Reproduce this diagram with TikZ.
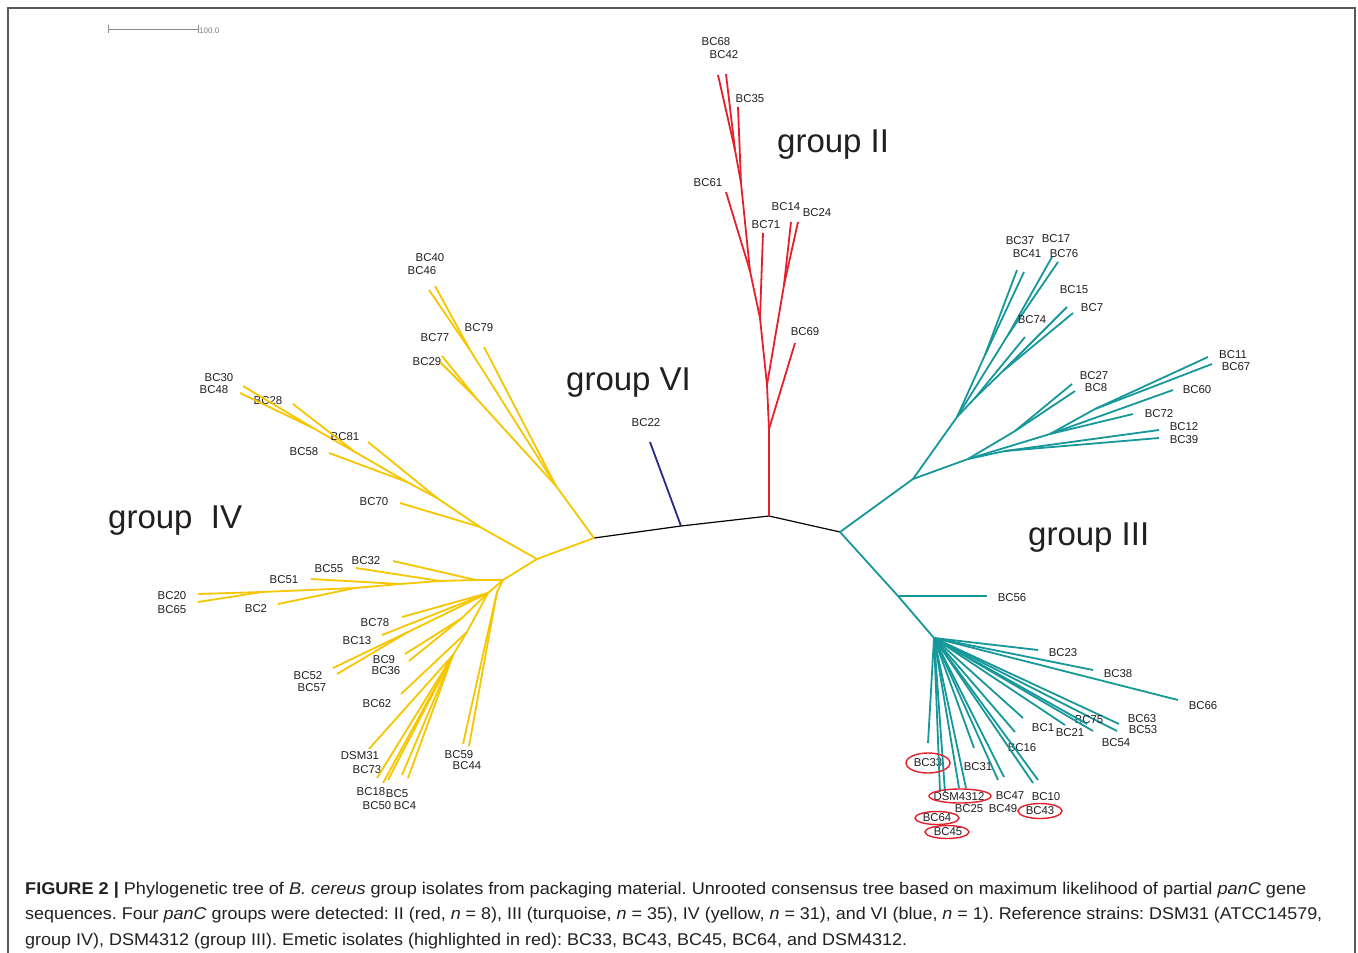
\documentclass[tikz,border=0pt]{standalone}
\usepackage{fontspec}
\setmainfont{Liberation Sans}
\usepackage{graphicx}
\usetikzlibrary{shapes.geometric}
\definecolor{gred}{HTML}{E3202B}
\definecolor{gteal}{HTML}{16989A}
\definecolor{gyel}{HTML}{F6C700}
\definecolor{gblue}{HTML}{2A2A85}
\definecolor{ink}{HTML}{231F20}
\frenchspacing
\newcommand\leaf[6]{%
  \coordinate (#3) at (#4);
  \node[lab] (#3t) at (#5) {#6};
  \draw[#1] (#2) -- (#3);}
\tikzset{
  lab/.style={font=\fontsize{11.4}{13}\selectfont, inner sep=0pt, text=ink},
  grp/.style={font=\fontsize{33}{36}\selectfont, inner sep=0pt, text=ink, anchor=base west},
  capt/.style={font=\fontsize{17}{20}\selectfont, inner sep=0pt, text=ink, anchor=base west},
  redl/.style={draw=gred, line width=1.8pt, line join=round},
  teal/.style={draw=gteal, line width=1.8pt, line join=round},
  yel/.style={draw=gyel, line width=1.8pt, line join=round},
  blu/.style={draw=gblue, line width=1.8pt},
  back/.style={draw=black, line width=1.2pt},
  emet/.style={draw=gred, line width=1.4pt, ellipse, inner sep=0pt},
  frame/.style={draw=black!65, line width=1.3pt}
}
\begin{document}
\begin{tikzpicture}[x=1pt,y=-1pt]
\useasboundingbox (0,0) rectangle (1358,953);
\fill[white] (0,0) rectangle (1358,953);
\draw[frame] (8,953) -- (8,8) -- (1355,8) -- (1355,953);
% scale bar
\coordinate (sbL) at (108,29);
\coordinate (sbR) at (198,29);
\draw[black!45, line width=0.9pt] (sbL) -- (sbR);
\draw[black!45, line width=0.9pt] ([yshift=-4pt]sbL) -- ([yshift=4pt]sbL);
\draw[black!45, line width=0.9pt] ([yshift=-4pt]sbR) -- ([yshift=4pt]sbR);
\node[anchor=west, inner sep=0pt, font=\fontsize{8}{9}\selectfont, text=black!50] (sbT) at (199,31) {100.0};

% backbone
\coordinate (y0) at (594,538);
\coordinate (b0) at (681,526);
\coordinate (r0) at (769,516);
\coordinate (t0) at (840,532);
\draw[back] (y0) -- (b0) -- (r0) -- (t0);

% group VI
\leaf{blu}{b0}{BC22}{650,442}{646,423}{BC22}

% group II
\coordinate (r1) at (769,429);
\coordinate (r2) at (767,385);
\coordinate (r3) at (784,285);
\coordinate (r4) at (760,318);
\coordinate (r5) at (750,271);
\coordinate (r6) at (741,183);
\coordinate (r7) at (735,150);
\draw[redl] (r0) -- (r1) -- (r2) -- (r4) -- (r5) -- (r6) -- (r7);
\draw[redl] (r2) -- (r3);
\leaf{redl}{r1}{BC69}{795,343}{805,332}{BC69}
\leaf{redl}{r3}{BC14}{791,222}{786,207}{BC14}
\leaf{redl}{r3}{BC24}{798,222}{817,213}{BC24}
\leaf{redl}{r4}{BC71}{763,233}{766,225}{BC71}
\leaf{redl}{r5}{BC61}{726,192}{708,183}{BC61}
\leaf{redl}{r6}{BC35}{738,107}{750,99}{BC35}
\leaf{redl}{r7}{BC68}{718,75}{716,42}{BC68}
\leaf{redl}{r7}{BC42}{726,74}{724,55}{BC42}

% group III
\coordinate (t1) at (913,479);
\coordinate (t2) at (957,417);
\coordinate (t3) at (968,459);
\coordinate (t4) at (898,596);
\coordinate (t5) at (934,638);
\draw[teal] (t0) -- (t1) -- (t2);
\draw[teal] (t1) -- (t3);
\draw[teal] (t0) -- (t4) -- (t5);
\leaf{teal}{t4}{BC56}{987,596}{1012,598}{BC56}
\coordinate (u2) at (985,355);
\coordinate (u3) at (1008,335);
\coordinate (u4) at (975,398);
\coordinate (u5) at (1003,371);
\draw[teal] (t2) -- (u2);
\draw[teal] (t2) -- (u3);
\draw[teal] (t2) -- (u4) -- (u5);
\leaf{teal}{u2}{BC37}{1017,270}{1020,241}{BC37}
\leaf{teal}{u2}{BC41}{1024,272}{1027,254}{BC41}
\leaf{teal}{u3}{BC17}{1052,257}{1056,239}{BC17}
\leaf{teal}{u3}{BC76}{1058,262}{1064,254}{BC76}
\leaf{teal}{u4}{BC74}{1025,337}{1032,320}{BC74}
\leaf{teal}{u5}{BC15}{1067,307}{1074,290}{BC15}
\leaf{teal}{u5}{BC7}{1073,313}{1092,308}{BC7}
\coordinate (v1) at (1015,431);
\coordinate (v2) at (1095,409);
\coordinate (v3) at (1050,434);
\coordinate (v4) at (1005,451);
\draw[teal] (t3) -- (v1);
\draw[teal] (t3) -- (v3) -- (v2);
\draw[teal] (t3) -- (v4);
\leaf{teal}{v1}{BC27}{1072,384}{1094,376}{BC27}
\leaf{teal}{v1}{BC8}{1075,391}{1096,388}{BC8}
\leaf{teal}{v2}{BC11}{1208,357}{1233,355}{BC11}
\leaf{teal}{v2}{BC67}{1212,364}{1236,367}{BC67}
\leaf{teal}{v3}{BC60}{1173,390}{1197,390}{BC60}
\leaf{teal}{v3}{BC72}{1133,414}{1159,414}{BC72}
\leaf{teal}{v4}{BC12}{1159,430}{1184,427}{BC12}
\leaf{teal}{v4}{BC39}{1159,438}{1184,440}{BC39}
% lower fan
\leaf{teal}{t5}{BC23}{1038,650}{1063,653}{BC23}
\leaf{teal}{t5}{BC38}{1093,670}{1118,674}{BC38}
\leaf{teal}{t5}{BC66}{1178,700}{1203,706}{BC66}
\leaf{teal}{t5}{BC63}{1119,724}{1142,719}{BC63}
\leaf{teal}{t5}{BC53}{1117,731}{1143,730}{BC53}
\leaf{teal}{t5}{BC75}{1087,724}{1089,720}{BC75}
\leaf{teal}{t5}{BC54}{1093,731}{1116,743}{BC54}
\leaf{teal}{t5}{BC21}{1065,725}{1070,733}{BC21}
\leaf{teal}{t5}{BC1}{1023,718}{1043,728}{BC1}
\leaf{teal}{t5}{BC16}{1015,732}{1022,748}{BC16}
\leaf{teal}{t5}{BC10}{1038,780}{1046,797}{BC10}
\leaf{teal}{t5}{BC43}{1033,783}{1040,811}{BC43}
\leaf{teal}{t5}{BC47}{1004,777}{1010,796}{BC47}
\leaf{teal}{t5}{BC49}{998,780}{1003,809}{BC49}
\leaf{teal}{t5}{BC31}{974,748}{978,767}{BC31}
\leaf{teal}{t5}{BC33}{928,743}{928,763}{BC33}
\leaf{teal}{t5}{DSM4312}{940,792}{959,797}{DSM4312}
\leaf{teal}{t5}{BC64}{945,792}{937,818}{BC64}
\leaf{teal}{t5}{BC25}{959,788}{969,809}{BC25}
\leaf{teal}{t5}{BC45}{966,788}{948,832}{BC45}
\node[emet, minimum width=44pt, minimum height=20pt] (e33) at (928,763) {};
\node[emet, minimum width=62pt, minimum height=14pt] (e4312) at (960,796) {};
\node[emet, minimum width=44pt, minimum height=15pt] (e43) at (1040,811) {};
\node[emet, minimum width=44pt, minimum height=13pt] (e64) at (937,818) {};
\node[emet, minimum width=44pt, minimum height=13pt] (e45) at (947,832) {};

% group IV
\coordinate (y1) at (537,559);
\coordinate (yU) at (556,486);
\draw[yel] (y0) -- (y1);
\draw[yel] (y0) -- (yU);
\coordinate (yA) at (470,350);
\coordinate (yB) at (476,398);
\draw[yel] (yU) -- (yA);
\draw[yel] (yU) -- (yB);
\leaf{yel}{yA}{BC40}{435,286}{430,258}{BC40}
\leaf{yel}{yA}{BC46}{429,290}{422,271}{BC46}
\leaf{yel}{yU}{BC79}{484,347}{479,328}{BC79}
\leaf{yel}{yB}{BC77}{442,356}{435,338}{BC77}
\leaf{yel}{yB}{BC29}{440,362}{427,362}{BC29}
\coordinate (yM1) at (480,527);
\coordinate (yM2) at (437,498);
\coordinate (yM3) at (407,482);
\coordinate (yM4) at (355,452);
\coordinate (yM5) at (313,428);
\draw[yel] (y1) -- (yM1) -- (yM2) -- (yM3) -- (yM4) -- (yM5);
\leaf{yel}{yM1}{BC70}{400,503}{374,502}{BC70}
\leaf{yel}{yM2}{BC81}{368,442}{345,437}{BC81}
\leaf{yel}{yM3}{BC58}{329,453}{304,452}{BC58}
\leaf{yel}{yM4}{BC28}{293,404}{268,401}{BC28}
\leaf{yel}{yM5}{BC30}{243,386}{219,378}{BC30}
\leaf{yel}{yM5}{BC48}{240,393}{214,390}{BC48}
\coordinate (yL) at (503,580);
\coordinate (yH1) at (476,580);
\coordinate (yH2) at (440,581);
\coordinate (yH3) at (400,584);
\coordinate (yH4) at (355,588);
\coordinate (yH5) at (262,592);
\draw[yel] (y1) -- (yL) -- (yH1) -- (yH2) -- (yH3) -- (yH4) -- (yH5);
\leaf{yel}{yH1}{BC32}{393,561}{366,561}{BC32}
\leaf{yel}{yH2}{BC55}{356,568}{329,569}{BC55}
\leaf{yel}{yH3}{BC51}{311,579}{284,580}{BC51}
\leaf{yel}{yH4}{BC2}{278,604}{256,609}{BC2}
\leaf{yel}{yH5}{BC20}{198,594}{172,596}{BC20}
\leaf{yel}{yH5}{BC65}{198,602}{172,610}{BC65}
\coordinate (yD) at (488,593);
\coordinate (yE) at (497,592);
\coordinate (yF) at (408,632);
\coordinate (yF2) at (462,618);
\coordinate (yG) at (467,632);
\coordinate (yG2) at (453,655);
\draw[yel] (yL) -- (yD);
\draw[yel] (yL) -- (yE);
\draw[yel] (yD) -- (yF);
\draw[yel] (yD) -- (yF2);
\draw[yel] (yD) -- (yG) -- (yG2);
\leaf{yel}{yD}{BC78}{402,617}{375,623}{BC78}
\leaf{yel}{yD}{BC13}{382,635}{357,641}{BC13}
\leaf{yel}{yF}{BC52}{333,668}{308,676}{BC52}
\leaf{yel}{yF}{BC57}{337,674}{312,688}{BC57}
\leaf{yel}{yF2}{BC9}{405,654}{384,660}{BC9}
\leaf{yel}{yF2}{BC36}{409,661}{386,671}{BC36}
\leaf{yel}{yG}{BC62}{401,694}{377,704}{BC62}
\leaf{yel}{yG2}{DSM31}{369,749}{360,756}{DSM31}
\leaf{yel}{yG2}{BC73}{377,778}{367,770}{BC73}
\leaf{yel}{yG2}{BC18}{383,783}{371,792}{BC18}
\leaf{yel}{yG2}{BC50}{388,780}{377,806}{BC50}
\leaf{yel}{yG2}{BC5}{402,775}{397,794}{BC5}
\leaf{yel}{yG2}{BC4}{408,778}{405,806}{BC4}
\leaf{yel}{yE}{BC59}{463,744}{459,755}{BC59}
\leaf{yel}{yE}{BC44}{469,746}{467,766}{BC44}

% group labels
\node[grp] (gII) at (777,152) {group II};
\node[grp] (gVI) at (566,390) {group VI};
\node[grp] (gIV) at (108,528) {group\ \ IV};
\node[grp] (gIII) at (1028,545) {group III};

% caption
\node[capt] (cap1) at (25,894) {\resizebox{1281pt}{\height}{\textbf{FIGURE 2 |} Phylogenetic tree of \textit{B. cereus} group isolates from packaging material. Unrooted consensus tree based on maximum likelihood of partial \textit{panC} gene}};
\node[capt] (cap2) at (25,919) {\resizebox{1297pt}{\height}{sequences. Four \textit{panC} groups were detected: II (red, \textit{n} = 8), III (turquoise, \textit{n} = 35), IV (yellow, \textit{n} = 31), and VI (blue, \textit{n} = 1). Reference strains: DSM31 (ATCC14579,}};
\node[capt] (cap3) at (25,945) {\resizebox{882pt}{\height}{group IV), DSM4312 (group III). Emetic isolates (highlighted in red): BC33, BC43, BC45, BC64, and DSM4312.}};
\end{tikzpicture}
\end{document}
